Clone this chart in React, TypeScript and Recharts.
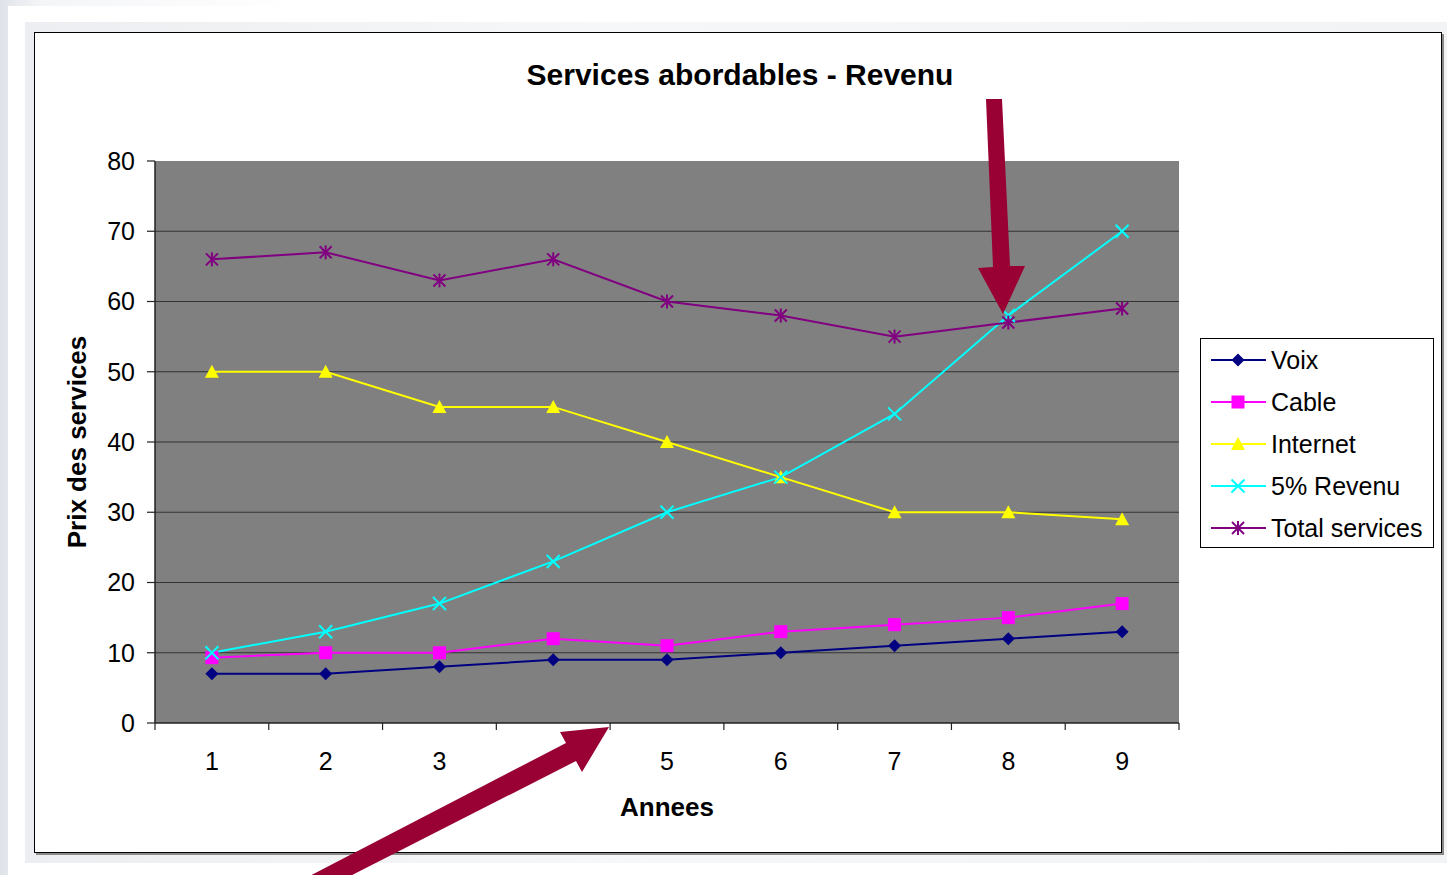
import React from 'react';
import {
  LineChart,
  Line,
  XAxis,
  YAxis,
  CartesianGrid,
  Legend,
  Label,
} from 'recharts';

// values
const annees = [1, 2, 3, 4, 5, 6, 7, 8, 9];
const voix = [7, 7, 8, 9, 9, 10, 11, 12, 13];
const cable = [9.3, 10, 10, 12, 11, 13, 14, 15, 17];
const internet = [50, 50, 45, 45, 40, 35, 30, 30, 29];
const revenu5 = [10, 13, 17, 23, 30, 35, 44, 58, 70];
const totalServices = [66, 67, 63, 66, 60, 58, 55, 57, 59];

const yTicks = [0, 10, 20, 30, 40, 50, 60, 70, 80];
const gridValues = [10, 20, 30, 40, 50, 60, 70];

const FONT = '"Liberation Sans", Arial, sans-serif';

const data = annees.map((a, i) => ({
  annee: a,
  voix: voix[i],
  cable: cable[i],
  internet: internet[i],
  revenu: revenu5[i],
  total: totalServices[i],
}));

// category labels sit on the years, tick marks between them
const boundaries = [...annees.map((a) => a - 0.5), annees[annees.length - 1] + 0.5];
const xTicks = [...boundaries, ...annees].sort((a, b) => a - b);

type Shape = 'diamond' | 'square' | 'triangle' | 'x' | 'star';

const series: { key: string; name: string; color: string; shape: Shape }[] = [
  { key: 'voix', name: 'Voix', color: '#000080', shape: 'diamond' },
  { key: 'cable', name: 'Cable', color: '#ff00ff', shape: 'square' },
  { key: 'internet', name: 'Internet', color: '#ffff00', shape: 'triangle' },
  { key: 'revenu', name: '5% Revenu', color: '#00ffff', shape: 'x' },
  { key: 'total', name: 'Total services', color: '#800080', shape: 'star' },
];

function Marker({ cx, cy, shape, color }: { cx: number; cy: number; shape: Shape; color: string }) {
  if (cx == null || cy == null) return null;
  switch (shape) {
    case 'diamond':
      return (
        <polygon
          points={`${cx},${cy - 6.5} ${cx + 6.5},${cy} ${cx},${cy + 6.5} ${cx - 6.5},${cy}`}
          fill={color}
        />
      );
    case 'square':
      return <rect x={cx - 6.5} y={cy - 6.5} width={13} height={13} fill={color} />;
    case 'triangle':
      return (
        <polygon
          points={`${cx},${cy - 7} ${cx + 7},${cy + 6} ${cx - 7},${cy + 6}`}
          fill={color}
        />
      );
    case 'x':
      return (
        <g stroke={color} strokeWidth={2}>
          <line x1={cx - 6.5} y1={cy - 6.5} x2={cx + 6.5} y2={cy + 6.5} />
          <line x1={cx - 6.5} y1={cy + 6.5} x2={cx + 6.5} y2={cy - 6.5} />
        </g>
      );
    case 'star':
      return (
        <g stroke={color} strokeWidth={2}>
          <line x1={cx - 6} y1={cy - 6} x2={cx + 6} y2={cy + 6} />
          <line x1={cx - 6} y1={cy + 6} x2={cx + 6} y2={cy - 6} />
          <line x1={cx} y1={cy - 7} x2={cx} y2={cy + 7} />
        </g>
      );
  }
  return null;
}

function XTick(props: any) {
  const { x, y, payload } = props;
  const v = payload.value;
  if (Number.isInteger(v)) {
    return (
      <text x={x} y={y + 47} textAnchor="middle" fontSize={25} fontFamily={FONT} fill="#000">
        {v}
      </text>
    );
  }
  return <line x1={x} y1={y} x2={x} y2={y + 7} stroke="#222" strokeWidth={1.2} />;
}

// legend keeps the series order of the original
function LegendBox() {
  return (
    <div
      style={{
        width: 234,
        height: 210,
        boxSizing: 'border-box',
        border: '1px solid #000',
        background: '#fff',
        fontFamily: FONT,
      }}
    >
      {series.map((s) => (
        <div key={s.key} style={{ height: 42, display: 'flex', alignItems: 'center' }}>
          <svg width={70} height={42} style={{ flex: 'none' }}>
            <line x1={10} y1={21} x2={65} y2={21} stroke={s.color} strokeWidth={2} />
            <Marker cx={37} cy={21} shape={s.shape} color={s.color} />
          </svg>
          <span style={{ fontSize: 25, color: '#000', whiteSpace: 'nowrap' }}>{s.name}</span>
        </div>
      ))}
    </div>
  );
}

export default function App() {
  return (
    <div
      style={{
        position: 'absolute',
        left: 0,
        top: 0,
        width: 1447,
        height: 875,
        overflow: 'hidden',
        background: 'linear-gradient(90deg, #dfe3e9 0px, #f4f5f7 40px, #ffffff 300px)',
        fontFamily: FONT,
      }}
    >
      <div style={{ position: 'absolute', left: 8, top: 6, right: 0, bottom: 0, background: '#fff' }} />
      <div
        style={{
          position: 'absolute',
          left: 25,
          top: 22,
          width: 1422,
          height: 841,
          background: 'linear-gradient(90deg, #eceef1, #f6f7f8 40%, #f2f3f5)',
        }}
      />
      <div
        style={{
          position: 'absolute',
          left: 34,
          top: 32,
          width: 1408,
          height: 821,
          boxSizing: 'border-box',
          border: '1.5px solid #000',
          background: '#fff',
          boxShadow: '2px 2px 0 #8a8a8a',
        }}
      />
      <div
        style={{
          position: 'absolute',
          left: 36,
          top: 58,
          width: 1408,
          textAlign: 'center',
          fontSize: 30,
          lineHeight: '34px',
          fontWeight: 'bold',
          color: '#000',
        }}
      >
        Services abordables - Revenu
      </div>
      <div style={{ position: 'absolute', left: 34, top: 32 }}>
        <LineChart
          width={1408}
          height={821}
          data={data}
          margin={{ top: 129, right: 263, left: 0, bottom: 0 }}
        >
          <CartesianGrid
            fill="#808080"
            fillOpacity={1}
            vertical={false}
            horizontalValues={gridValues}
            stroke="#333"
            strokeWidth={1.2}
          />
          <XAxis
            dataKey="annee"
            type="number"
            domain={[0.5, 9.5]}
            ticks={xTicks}
            interval={0}
            height={130}
            tickSize={0}
            tickMargin={0}
            tickLine={false}
            tick={<XTick />}
            axisLine={{ stroke: '#222', strokeWidth: 1.5 }}
          >
            <Label
              value="Annees"
              position="insideBottom"
              offset={37}
              style={{ fontSize: 26, fontWeight: 'bold', fontFamily: FONT, fill: '#000' }}
            />
          </XAxis>
          <YAxis
            domain={[0, 80]}
            ticks={yTicks}
            interval={0}
            width={121}
            tickSize={8}
            tickMargin={12}
            tick={{ fontSize: 25, fontFamily: FONT, fill: '#000' }}
            tickLine={{ stroke: '#222', strokeWidth: 1.2 }}
            axisLine={{ stroke: '#222', strokeWidth: 1.5 }}
          >
            <Label
              value="Prix des services"
              angle={-90}
              position="insideLeft"
              offset={43}
              style={{
                fontSize: 26,
                fontWeight: 'bold',
                fontFamily: FONT,
                fill: '#000',
                textAnchor: 'middle',
              }}
            />
          </YAxis>
          <Legend
            layout="vertical"
            align="center"
            verticalAlign="middle"
            content={<LegendBox />}
            wrapperStyle={{ left: 1166, top: 306, width: 234, height: 210 }}
          />
          {series.map((s) => (
            <Line
              key={s.key}
              dataKey={s.key}
              name={s.name}
              stroke={s.color}
              strokeWidth={2}
              isAnimationActive={false}
              dot={(p: any) => (
                <Marker key={`${s.key}-${p.index}`} cx={p.cx} cy={p.cy} shape={s.shape} color={s.color} />
              )}
              activeDot={false}
            />
          ))}
        </LineChart>
      </div>
      {/* the two highlight arrows */}
      <svg
        width={1447}
        height={875}
        style={{ position: 'absolute', left: 0, top: 0, pointerEvents: 'none' }}
      >
        <polygon
          points="986,99 1002,99 1010,266 1025,266 1003,314 978,268 993,267"
          fill="#990033"
        />
        <polygon
          points="298,882 566,743 560,732 609,727 582,772 576,761 307,898"
          fill="#990033"
        />
      </svg>
    </div>
  );
}
